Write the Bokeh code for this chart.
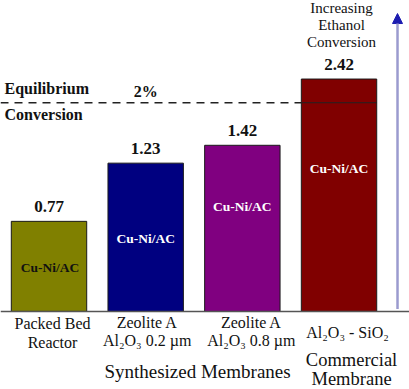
import math
from bokeh.plotting import figure
from bokeh.models import Range1d, Arrow, NormalHead, Span
from bokeh.embed import file_html
from bokeh.resources import INLINE
from bokeh.core.properties import value

# ---- data ----
categories = ["Packed Bed Reactor", "Zeolite A Al2O3 0.2 um", "Zeolite A Al2O3 0.8 um", "Al2O3 - SiO2"]
conversion = [0.77, 1.23, 1.42, 2.42]
value_labels = ["0.77", "1.23", "1.42", "2.42"]
catalyst = ["Cu-Ni/AC", "Cu-Ni/AC", "Cu-Ni/AC", "Cu-Ni/AC"]
bar_colors = ["#808000", "#000080", "#800080", "#800000"]
catalyst_colors = ["#111111", "#ffffff", "#ffffff", "#ffffff"]
tick_line1 = ["Packed Bed", "Zeolite A", "Zeolite A", "Al\u2082O\u2083 - SiO\u2082"]
tick_line2 = ["Reactor", "Al\u2082O\u2083 0.2 \u00b5m", "Al\u2082O\u2083 0.8 \u00b5m", ""]
group_labels = ["Synthesized Membranes", "Commercial", "Membrane"]
equilibrium = 2.0
equilibrium_text = "2%"
arrow_text = ["Increasing", "Ethanol", "Conversion"]

# ---- layout ----
BASE = 0.373
X0, X1 = -0.5017, 3.729
FONT = value("Liberation Serif")
xs = list(range(len(conversion)))
BW = 0.78

p = figure(width=409, height=389, output_backend="svg", toolbar_location=None,
           x_range=Range1d(X0, X1), y_range=Range1d(0.199, 4.553), y_axis_type="log",
           min_border=0, min_border_left=0, min_border_right=0, min_border_top=0, min_border_bottom=0)
p.xaxis.visible = False
p.yaxis.visible = False
p.grid.visible = False
p.outline_line_color = None
p.background_fill_color = "white"
p.border_fill_color = "white"

# bars
p.vbar(x=xs, top=conversion, bottom=BASE, width=BW, fill_color=bar_colors,
       line_color="#1a1a1a", line_width=1)

# baseline
p.add_layout(Span(location=BASE, dimension="width", line_color="#555555", line_width=1.5))

# equilibrium line
last = xs[-1]
p.segment(x0=[X0], y0=[equilibrium], x1=[last - BW / 2], y1=[equilibrium],
          line_color="#222222", line_width=1.3, line_dash="8 6")
p.segment(x0=[last - BW / 2], y0=[equilibrium], x1=[last + BW / 2], y1=[equilibrium],
          line_color="#222222", line_width=1.2)

# value labels
p.text(x=xs, y=conversion, text=value_labels, text_font=FONT, text_font_size="17px",
       text_font_style="bold", text_align="center", text_baseline="middle",
       y_offset=-15, text_color="#111111")

# catalyst labels inside bars
mids = [math.sqrt(BASE * v) for v in conversion]
p.text(x=xs, y=mids, text=catalyst, text_font=FONT, text_font_size="13.5px",
       text_font_style="bold", text_align="center", text_baseline="middle",
       x_offset=[1, 0, 0, 0], y_offset=[1, 1.5, -22, -27], text_color=catalyst_colors)

# equilibrium texts
p.text(x=[X0, X0], y=[equilibrium, equilibrium], text=["Equilibrium", "Conversion"],
       text_font=FONT, text_font_size="16px", text_font_style="bold",
       text_align="left", text_baseline="middle", x_offset=4, y_offset=[-14, 12],
       text_color="#111111")
p.text(x=[1], y=[equilibrium], text=[equilibrium_text], text_font=FONT, text_font_size="16px",
       text_font_style="bold", text_align="center", text_baseline="middle",
       y_offset=-11, text_color="#111111")

# category labels
p.text(x=xs, y=[BASE] * 4, text=tick_line1, text_font=FONT, text_font_size="16px",
       text_align="center", text_baseline="middle",
       x_offset=[3.5, 1.5, 9, 8.5], y_offset=[12, 11, 11, 21], text_color="#111111")
p.text(x=xs, y=[BASE] * 4, text=tick_line2, text_font=FONT, text_font_size="16px",
       text_align="center", text_baseline="middle",
       x_offset=[3.5, 1.5, 9, 8.5], y_offset=[31, 29, 29, 29], text_color="#111111")

# group labels
p.text(x=[1.5, last, last], y=[BASE] * 3, text=group_labels, text_font=FONT,
       text_font_size=["19px", "18.5px", "18.5px"], text_align="center", text_baseline="middle",
       x_offset=[3.5, 12.5, 12.5], y_offset=[60, 49, 68], text_color="#111111")

# increasing arrow
AX = last + 0.605
p.add_layout(Arrow(end=NormalHead(size=10, fill_color="#1c1cb0", line_color="#1c1cb0"),
                   x_start=AX, y_start=BASE * 1.02, x_end=AX, y_end=4.10,
                   line_color="#9b9bcf", line_width=2.5))
p.text(x=[last] * 3, y=[conversion[-1]] * 3, text=arrow_text, text_font=FONT,
       text_font_size="15px", text_align="center", text_baseline="middle",
       x_offset=2.5, y_offset=[-71, -54.5, -37.5], text_color="#111111")

open("out.html", "w").write(file_html(p, INLINE))
